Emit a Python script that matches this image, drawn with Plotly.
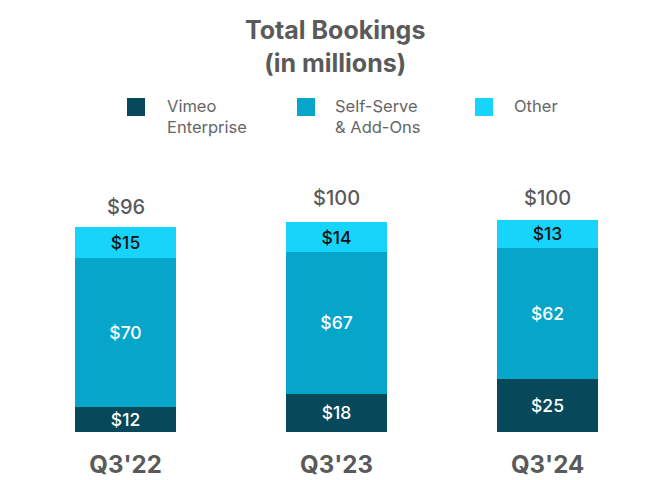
import plotly.graph_objects as go

categories = ["Q3'22", "Q3'23", "Q3'24"]
series_names = ["Vimeo<br>Enterprise", "Self-Serve<br>& Add-Ons", "Other"]
enterprise = [12, 18, 25]
self_serve = [70, 67, 62]
other = [15, 14, 13]
totals = [96, 100, 100]

colors = ["#07485A", "#06A6CB", "#17D4FA"]
text_colors = ["#FFFFFF", "#FFFFFF", "#111111"]
series_values = [enterprise, self_serve, other]

FONT = "Inter, Roboto, Arial, sans-serif"
GRAY = "#5a5a5a"

fig = go.Figure()
for name, vals, col, tcol in zip(series_names, series_values, colors, text_colors):
    fig.add_trace(go.Bar(
        x=categories, y=vals, name=name,
        marker=dict(color=col, line=dict(width=0)),
        text=[f"${v}" for v in vals], textposition="inside",
        insidetextanchor="middle", textangle=0,
        textfont=dict(color=tcol, size=17.5, family=FONT, weight=500),
        showlegend=False, hoverinfo="skip",
    ))

PL, PT, PW, PH = 20, 199, 633, 233

def px(x):
    return (x - PL) / PW

def py(y):
    return (PT + PH - y) / PH

annotations = []
for c, t in zip(categories, totals):
    annotations.append(dict(x=c, y=t, xref="x", yref="y", text=f"${t}",
                            showarrow=False, yanchor="bottom", yshift=8,
                            font=dict(size=20, color=GRAY, family=FONT, weight=500)))

# title
annotations.append(dict(x=px(335), y=py(13), xref="paper", yref="paper",
                        text="<b>Total Bookings</b><br><b>(in millions)</b>",
                        showarrow=False, xanchor="center", yanchor="top", align="center",
                        font=dict(size=25, color=GRAY, family=FONT)))

# custom legend
leg_sq_x = [127, 297, 475]
leg_tx_x = [165, 333, 512]
shapes = []
for name, col, sx, tx in zip(series_names, colors, leg_sq_x, leg_tx_x):
    shapes.append(dict(type="rect", xref="paper", yref="paper",
                       x0=px(sx), x1=px(sx + 18),
                       y0=py(116), y1=py(98),
                       fillcolor=col, line=dict(width=0)))
    annotations.append(dict(x=px(tx), y=py(94), xref="paper", yref="paper",
                            text=name, showarrow=False, xanchor="left", yanchor="top",
                            align="left",
                            font=dict(size=16.5, color="#666666", family=FONT)))

fig.update_layout(
    width=672, height=480,
    margin=dict(l=PL, r=672 - PL - PW, t=PT, b=480 - PT - PH, autoexpand=False),
    paper_bgcolor="white", plot_bgcolor="white",
    barmode="stack", bargap=0.517,
    uniformtext=dict(minsize=17.5, mode="show"),
    xaxis=dict(showgrid=False, showline=False, zeroline=False, ticks="",
               tickfont=dict(size=24, color=GRAY, family=FONT, weight="bold"),
               ticklabelstandoff=16, automargin=False),
    yaxis=dict(range=[0, 110], visible=False, showgrid=False, automargin=False),
    annotations=annotations, shapes=shapes,
)

fig.write_html("out.html", post_script="document.body.style.margin='0px';",
               config={"displayModeBar": False})
